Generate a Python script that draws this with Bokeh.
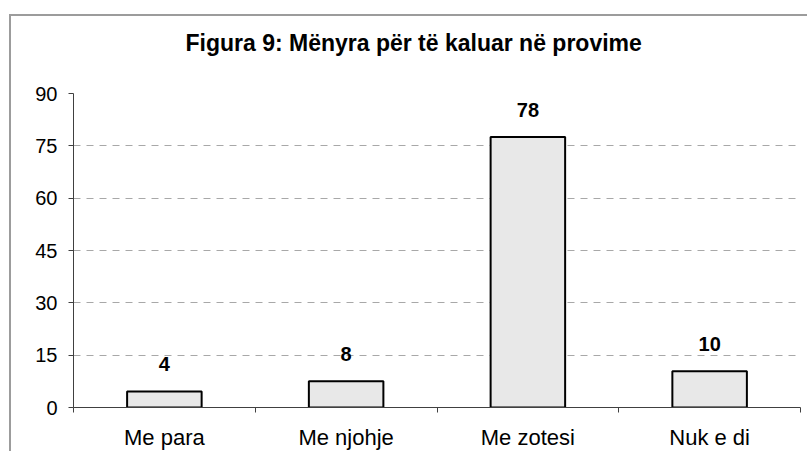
from bokeh.plotting import figure
from bokeh.models import Range1d, FixedTicker, ColumnDataSource, Title
from bokeh.core.properties import value
from bokeh.embed import file_html
from bokeh.resources import INLINE

title_text = "Figura 9: Mënyra për të kaluar në provime"
categories = ["Me para", "Me njohje", "Me zotesi", "Nuk e di"]
percent = [4.6, 7.5, 77.5, 10.4]
labels = ["4", "8", "78", "10"]
y_ticks = [0, 15, 30, 45, 60, 75, 90]

FONT = "Liberation Sans"

xs = [i + 0.5 for i in range(len(categories))]
src = ColumnDataSource(dict(x=xs, top=percent, label=labels))

p = figure(width=798, height=437, output_backend="svg", toolbar_location=None,
           x_range=Range1d(0, len(categories)), y_range=Range1d(0, 90),
           min_border_left=62, min_border_right=9, min_border_top=77,
           min_border_bottom=46, margin=(14, 0, 0, 9))
p.styles = {"border-top": "2px solid #9c9c9c", "border-left": "2px solid #9c9c9c"}

p.outline_line_color = None
p.background_fill_color = "white"
p.border_fill_color = "white"

# spacer between frame and title, then the title itself
spacer = Title(text=" ", text_font_size="10px", standoff=25)
p.add_layout(spacer, "above")
main_title = Title(text=title_text, align="left", offset=112, standoff=0,
                   text_font=FONT, text_font_size="23px",
                   text_font_style="bold", text_color="black")
p.add_layout(main_title, "above")

p.vbar(x="x", top="top", width=0.41, source=src, fill_color="#e8e8e8",
       line_color="black", line_width=2)
p.text(x="x", y="top", text="label", source=src, text_align="center",
       text_baseline="alphabetic", y_offset=-27, text_font=value(FONT),
       text_font_size="20px", text_font_style="bold", text_color="black")

# grid
p.xgrid.grid_line_color = None
p.ygrid.ticker = FixedTicker(ticks=y_ticks)
p.ygrid.grid_line_color = "#a8a8a8"
p.ygrid.grid_line_dash = "7 6"
p.ygrid.grid_line_width = 1

# y axis
ya = p.yaxis[0]
ya.ticker = FixedTicker(ticks=y_ticks)
ya.axis_line_color = "#404040"
ya.major_tick_line_color = "#404040"
ya.major_tick_in = 0
ya.major_tick_out = 5
ya.minor_tick_line_color = None
ya.major_label_standoff = 11
ya.major_label_text_font = FONT
ya.major_label_text_font_size = "20px"
ya.major_label_text_color = "black"

# x axis
xa = p.xaxis[0]
xa.ticker = FixedTicker(ticks=xs, minor_ticks=list(range(len(categories) + 1)))
xa.major_label_overrides = {x: c for x, c in zip(xs, categories)}
xa.axis_line_color = "#404040"
xa.major_tick_line_color = None
xa.major_tick_in = 0
xa.major_tick_out = 0
xa.minor_tick_line_color = "#404040"
xa.minor_tick_in = 0
xa.minor_tick_out = 5
xa.major_label_standoff = 12
xa.major_label_text_font = FONT
xa.major_label_text_font_size = "22px"
xa.major_label_text_color = "black"

open("out.html", "w").write(file_html(p, INLINE))
